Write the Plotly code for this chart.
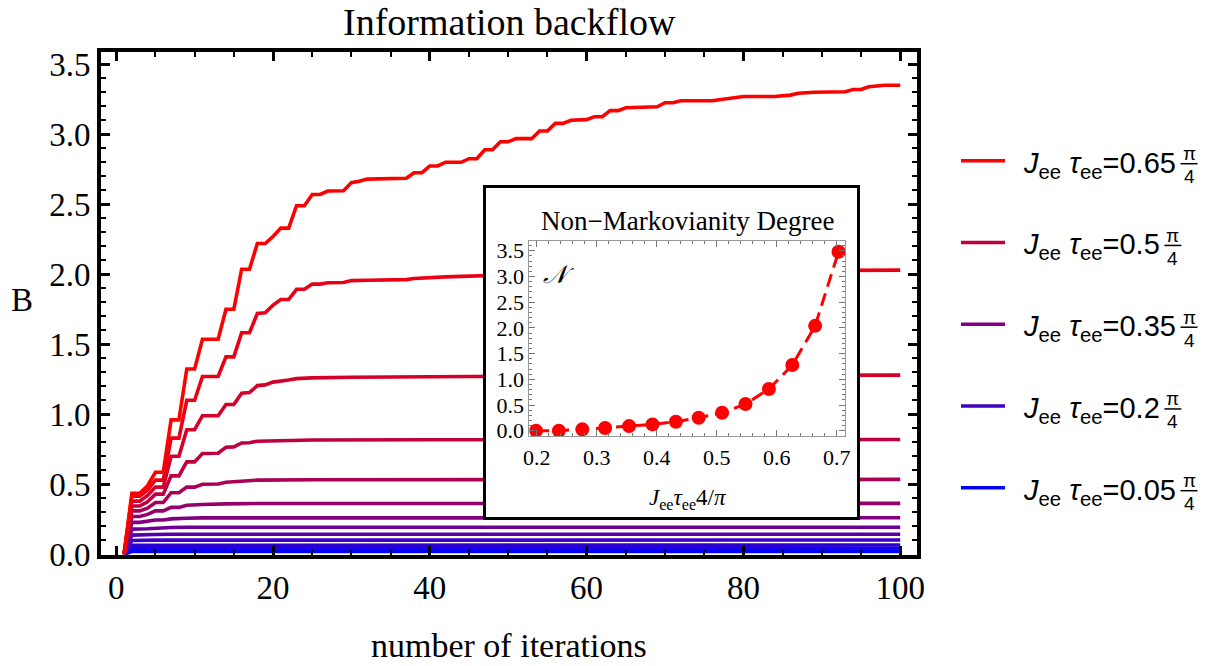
import plotly.graph_objects as go

# ---------------- data ----------------
J_values = [0.05, 0.10, 0.15, 0.20, 0.25, 0.30, 0.35, 0.40, 0.45, 0.50, 0.55, 0.60, 0.65]

it_J005 = [1, 2, 100]
B_J005 = [0, 0.02, 0.02]
it_J010 = [1, 2, 100]
B_J010 = [0, 0.042, 0.043]
it_J015 = [1, 2, 100]
B_J015 = [0, 0.065, 0.066]
it_J020 = [1, 2, 5, 100]
B_J020 = [0, 0.099, 0.101, 0.102]
it_J025 = [1, 2, 5, 7, 100]
B_J025 = [0, 0.137, 0.141, 0.143, 0.143]
it_J030 = [1, 2, 4, 5, 7, 9, 100]
B_J030 = [0, 0.18, 0.182, 0.187, 0.191, 0.193, 0.193]
it_J035 = [1, 2, 3, 4, 5, 6, 7, 9, 11, 100]
B_J035 = [0, 0.228, 0.228, 0.235, 0.245, 0.245, 0.253, 0.258, 0.26, 0.261]
it_J040 = [1, 2, 3, 4, 5, 6, 7, 8, 9, 10, 11, 14, 18, 100]
B_J040 = [0, 0.27, 0.27, 0.285, 0.31, 0.31, 0.335, 0.335, 0.35, 0.35, 0.356, 0.36, 0.363, 0.364]
it_J045 = [1, 2, 3, 4, 5, 6, 7, 8, 9, 10, 11, 13, 14, 16, 18, 25, 100]
B_J045 = [0, 0.31, 0.31, 0.33, 0.37, 0.37, 0.44, 0.44, 0.48, 0.48, 0.50, 0.502, 0.515, 0.525, 0.53, 0.533, 0.535]
it_J050 = [1, 2, 3, 4, 5, 6, 7, 8, 9, 10, 11, 13, 14, 15, 16, 17, 18, 20, 25, 40, 100]
B_J050 = [0, 0.345, 0.345, 0.375, 0.43, 0.43, 0.56, 0.56, 0.66, 0.66, 0.72, 0.722, 0.765, 0.767,
          0.795, 0.797, 0.808, 0.812, 0.816, 0.818, 0.82]
it_J055 = [1, 2, 3, 4, 5, 6, 7, 8, 9, 10, 11, 13, 14, 15, 16, 17, 18, 19, 20, 21, 22, 23, 25, 30,
           40, 60, 100]
B_J055 = [0, 0.38, 0.38, 0.42, 0.48, 0.48, 0.70, 0.70, 0.89, 0.89, 0.99, 0.99, 1.07, 1.07, 1.15,
          1.155, 1.205, 1.21, 1.23, 1.235, 1.245, 1.255, 1.26, 1.265, 1.27, 1.275, 1.28]
it_J060 = [1, 2, 3, 4, 5, 6, 7, 8, 9, 10, 11, 13, 14, 15, 16, 17, 18, 19, 20, 21, 22, 23, 24, 25,
           26, 27, 29, 30, 32, 37, 38, 40, 42, 44, 47, 60, 80, 100]
B_J060 = [0, 0.415, 0.415, 0.46, 0.53, 0.53, 0.83, 0.83, 1.10, 1.10, 1.27, 1.27, 1.41, 1.41, 1.583,
          1.583, 1.72, 1.725, 1.78, 1.82, 1.82, 1.893, 1.893, 1.93, 1.93, 1.94, 1.942, 1.955, 1.958,
          1.962, 1.97, 1.978, 1.982, 1.985, 1.99, 2.01, 2.025, 2.03]
it_J065 = [1, 2, 3, 4, 5, 6, 7, 8, 9, 10, 11, 13, 14, 15, 16, 17, 18, 19, 20, 21, 22, 23, 24, 25,
           26, 27, 29, 30, 31, 32, 37, 38, 39, 40, 41, 42, 44, 45, 46, 47, 48, 49, 50, 51, 53, 54,
           55, 56, 57, 58, 60, 61, 62, 63, 64, 65, 69, 70, 71, 72, 76, 78, 80, 84, 86, 87, 89, 93,
           94, 95, 96, 98, 100]
B_J065 = [0, 0.436, 0.436, 0.49, 0.586, 0.586, 0.96, 0.96, 1.324, 1.324, 1.536, 1.536, 1.75, 1.75,
          2.036, 2.036, 2.22, 2.22, 2.27, 2.33, 2.33, 2.49, 2.49, 2.57, 2.57, 2.595, 2.597, 2.655,
          2.665, 2.68, 2.686, 2.726, 2.726, 2.774, 2.774, 2.80, 2.80, 2.826, 2.826, 2.89, 2.89,
          2.947, 2.947, 2.969, 2.969, 3.024, 3.024, 3.078, 3.078, 3.10, 3.105, 3.126, 3.126, 3.169,
          3.169, 3.19, 3.197, 3.226, 3.226, 3.24, 3.24, 3.257, 3.27, 3.27, 3.28, 3.293, 3.30, 3.304,
          3.32, 3.32, 3.34, 3.35, 3.35]

iterations = [it_J005, it_J010, it_J015, it_J020, it_J025, it_J030, it_J035, it_J040, it_J045,
              it_J050, it_J055, it_J060, it_J065]
backflow = [B_J005, B_J010, B_J015, B_J020, B_J025, B_J030, B_J035, B_J040, B_J045,
            B_J050, B_J055, B_J060, B_J065]

legend_J = [0.65, 0.5, 0.35, 0.2, 0.05]
legend_labels = ["0.65", "0.5", "0.35", "0.2", "0.05"]

inset_x = [0.199, 0.237, 0.276, 0.314, 0.354, 0.393, 0.432, 0.470, 0.509, 0.548, 0.587, 0.626,
           0.664, 0.703]
inset_N = [0.0, 0.0, 0.026, 0.052, 0.09, 0.123, 0.175, 0.253, 0.35, 0.518, 0.81, 1.277, 2.04, 3.48]

# ---------------- layout helpers ----------------
W, H = 1206, 666
PL, PR, PT, PB = 101, 917, 52, 555          # main plot area in pixels


def fx(x):
    return (x - PL) / (PR - PL)


def fy(y):
    return (PB - y) / (PB - PT)


def blend(J):
    t = (J - 0.05) / 0.60
    return "rgb(%d,0,%d)" % (round(255 * t), round(255 * (1 - t)))


SERIF = "Liberation Serif"
SANS = "Liberation Sans"

fig = go.Figure()

for J, xs, ys in zip(J_values, iterations, backflow):
    fig.add_trace(go.Scatter(x=xs, y=ys, mode="lines", line=dict(color=blend(J), width=3.6),
                             showlegend=False, hoverinfo="skip"))

# placeholder trace for the white inset box subplot
fig.add_trace(go.Scatter(x=[None], y=[None], xaxis="x2", yaxis="y2", showlegend=False,
                         hoverinfo="skip"))

fig.add_trace(go.Scatter(x=inset_x, y=inset_N, xaxis="x3", yaxis="y3", mode="lines+markers",
                         line=dict(color="rgb(255,0,0)", width=3, dash="13px,7px"),
                         marker=dict(size=14, color="rgb(255,0,0)"),
                         showlegend=False, hoverinfo="skip"))

main_tick = dict(ticks="inside", ticklen=9, tickwidth=2.5, tickcolor="black",
                 showline=True, linewidth=4, linecolor="black", mirror="ticks",
                 showgrid=False, zeroline=False,
                 tickfont=dict(family=SERIF, size=33, color="black"))

inset_tick = dict(ticks="inside", ticklen=6, tickwidth=1, tickcolor="#777",
                  showline=True, linewidth=1, linecolor="#999", mirror="ticks",
                  showgrid=False, zeroline=False,
                  tickfont=dict(family=SERIF, size=22, color="black"))

fig.update_layout(
    width=W, height=H,
    margin=dict(l=PL, r=W - PR, t=PT, b=H - PB, pad=0),
    paper_bgcolor="white", plot_bgcolor="white",
    showlegend=False,
    xaxis=dict(domain=[0, 1], anchor="y", range=[-1.94, 102.14], tick0=0, dtick=20,
               minor=dict(ticks="inside", ticklen=5, tickwidth=2, tickcolor="black", dtick=5,
                          showgrid=False),
               ticklabelstandoff=0, **main_tick),
    yaxis=dict(domain=[0, 1], anchor="x", range=[-0.005, 3.588], tick0=0, dtick=0.5,
               tickformat=".1f",
               minor=dict(ticks="inside", ticklen=5, tickwidth=2, tickcolor="black", dtick=0.1,
                          showgrid=False),
               ticklabelstandoff=0, **main_tick),
    xaxis2=dict(domain=[fx(486), fx(857)], anchor="y2", range=[0, 1], visible=True,
                showticklabels=False, ticks="", showgrid=False, zeroline=False,
                showline=True, linewidth=3, linecolor="black", mirror=True, fixedrange=True),
    yaxis2=dict(domain=[fy(517), fy(188)], anchor="x2", range=[0, 1], visible=True,
                showticklabels=False, ticks="", showgrid=False, zeroline=False,
                showline=True, linewidth=3, linecolor="black", mirror=True, fixedrange=True),
    xaxis3=dict(domain=[fx(529.3), fx(845)], anchor="y3", range=[0.1877, 0.7138], tick0=0,
                dtick=0.1, tickformat=".1f",
                minor=dict(ticks="inside", ticklen=3, tickwidth=1, tickcolor="#777", dtick=0.02,
                           showgrid=False),
                ticklabelstandoff=2, **inset_tick),
    yaxis3=dict(domain=[fy(436), fy(241)], anchor="x3", range=[-0.103, 3.69], tick0=0,
                dtick=0.5, tickformat=".1f",
                minor=dict(ticks="inside", ticklen=3, tickwidth=1, tickcolor="#777", dtick=0.1,
                           showgrid=False),
                ticklabelstandoff=0, **inset_tick),
)

ann = []
shapes = []

# titles / labels
ann.append(dict(text="Information backflow", x=fx(509.5), y=fy(22), xref="paper", yref="paper",
                showarrow=False, xanchor="center", yanchor="middle",
                font=dict(family=SERIF, size=38, color="black")))
ann.append(dict(text="number of iterations", x=fx(509), y=fy(645), xref="paper", yref="paper",
                showarrow=False, xanchor="center", yanchor="middle",
                font=dict(family=SERIF, size=34, color="black")))
ann.append(dict(text="B", x=fx(22), y=fy(300), xref="paper", yref="paper",
                showarrow=False, xanchor="center", yanchor="middle",
                font=dict(family=SERIF, size=33, color="black")))

# inset texts
ann.append(dict(text="Non\u2212Markovianity Degree", x=fx(687), y=fy(221), xref="paper",
                yref="paper", showarrow=False, xanchor="center", yanchor="middle",
                font=dict(family=SERIF, size=27, color="black")))
ann.append(dict(text="<i>J</i><sub>ee</sub><i>\u03c4</i><sub>ee</sub>4/<i>\u03c0</i>",
                x=fx(688), y=fy(499), xref="paper", yref="paper", showarrow=False,
                xanchor="center", yanchor="middle",
                font=dict(family=SERIF, size=23, color="black")))
ann.append(dict(text="<i>\U0001D4A9</i>", x=fx(558), y=fy(274), xref="paper", yref="paper",
                showarrow=False, xanchor="center", yanchor="middle",
                font=dict(family=SERIF, size=25, color="black")))

# manual legend
leg_y0, leg_dy = 160.7, 81.75
for i, (J, lab) in enumerate(zip(legend_J, legend_labels)):
    ly = leg_y0 + i * leg_dy
    col = blend(J)
    shapes.append(dict(type="line", xref="paper", yref="paper", x0=fx(961), x1=fx(1005),
                       y0=fy(ly), y1=fy(ly), line=dict(color=col, width=3.6)))
    ann.append(dict(text="<i>J</i><sub>ee</sub> <i>\u03c4</i><sub>ee</sub>=" + lab,
                    x=fx(1021), y=fy(ly + 4), xref="paper", yref="paper", showarrow=False,
                    xanchor="left", yanchor="middle",
                    font=dict(family=SANS, size=29, color="black")))
    fxc = 1189 - (4 - len(lab)) * 16.1
    ann.append(dict(text="\u03c0", x=fx(fxc), y=fy(ly - 7), xref="paper", yref="paper",
                    showarrow=False, xanchor="center", yanchor="middle",
                    font=dict(family=SANS, size=19, color="black")))
    ann.append(dict(text="4", x=fx(fxc), y=fy(ly + 16), xref="paper", yref="paper",
                    showarrow=False, xanchor="center", yanchor="middle",
                    font=dict(family=SANS, size=19, color="black")))
    shapes.append(dict(type="line", xref="paper", yref="paper", x0=fx(fxc - 8.5),
                       x1=fx(fxc + 8.5), y0=fy(ly + 3), y1=fy(ly + 3),
                       line=dict(color="black", width=1.5)))

fig.update_layout(annotations=ann, shapes=shapes)

fig.write_html("out.html")
